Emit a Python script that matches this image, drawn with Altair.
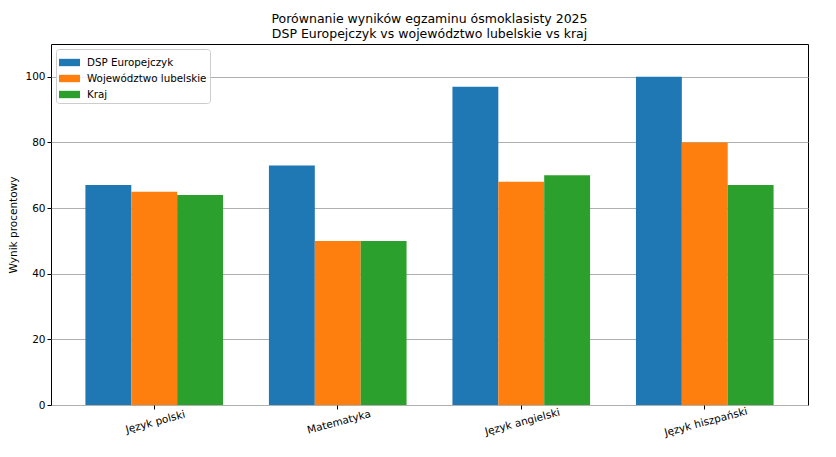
import altair as alt
import pandas as pd

categories = ["Język polski", "Matematyka", "Język angielski", "Język hiszpański"]
series = ["DSP Europejczyk", "Województwo lubelskie", "Kraj"]
dsp = [67, 73, 97, 100]
woj = [65, 50, 68, 80]
kraj = [64, 50, 70, 67]
colors = ["#1f77b4", "#ff7f0e", "#2ca02c"]

rows = []
for s, vals in zip(series, [dsp, woj, kraj]):
    for c, v in zip(categories, vals):
        rows.append({"Przedmiot": c, "Seria": s, "Wynik": v})
df = pd.DataFrame(rows)

FONT = "DejaVu Sans"

bars = alt.Chart(df).mark_bar().encode(
    x=alt.X("Przedmiot:N", sort=categories, title=None,
            scale=alt.Scale(paddingInner=0.25, paddingOuter=0.1875),
            axis=alt.Axis(labelAngle=345, labelAlign="center", labelBaseline="top",
                          labelFontSize=10.5, labelColor="black", labelFont=FONT,
                          tickColor="black", tickSize=4, domain=False, grid=False,
                          labelPadding=8)),
    xOffset=alt.XOffset("Seria:N", sort=series, scale=alt.Scale(paddingInner=0, paddingOuter=0)),
    y=alt.Y("Wynik:Q", title="Wynik procentowy",
            scale=alt.Scale(domain=[0, 110], nice=False),
            axis=alt.Axis(values=[0, 20, 40, 60, 80, 100], labelFontSize=10.5,
                          labelColor="black", labelFont=FONT, tickColor="black",
                          tickSize=4, domain=False, grid=True, gridColor="#b0b0b0",
                          gridWidth=1, titleFont=FONT, titleFontSize=10.5,
                          titleFontWeight="normal", titleColor="black", titlePadding=6)),
    color=alt.Color("Seria:N", sort=series,
                    scale=alt.Scale(domain=series, range=colors),
                    legend=alt.Legend(title=None, orient="top-left", offset=5,
                                      symbolType="M-1,-0.35H1V0.35H-1Z", symbolSize=441,
                                      symbolStrokeWidth=0, symbolOpacity=1,
                                      labelFont=FONT, labelFontSize=10.3, labelColor="black",
                                      rowPadding=0, padding=3, strokeColor="#cccccc",
                                      fillColor="rgba(255,255,255,0.8)", cornerRadius=3,
                                      labelOffset=7)),
)

chart = bars.properties(
    width=757, height=361,
    title=alt.Title(["Porównanie wyników egzaminu ósmoklasisty 2025",
                     "DSP Europejczyk vs województwo lubelskie vs kraj"],
                    font=FONT, fontSize=12.5, fontWeight="normal", color="black",
                    anchor="middle", offset=4, lineHeight=15),
    padding={"left": 0, "top": 4, "right": 10, "bottom": 5},
).configure_view(stroke="black", strokeWidth=1)

chart.save("out.html", embed_options={"renderer": "svg", "actions": False})
